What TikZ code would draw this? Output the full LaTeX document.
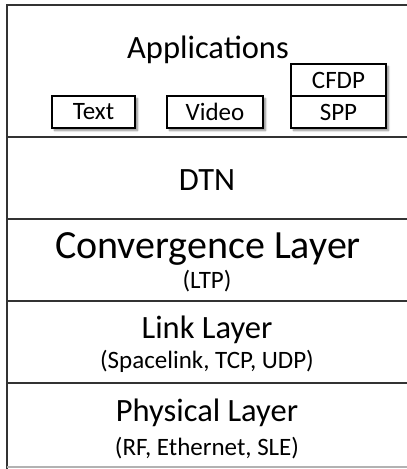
\documentclass[tikz,border=0pt]{standalone}
\usepackage{fontspec}
\setmainfont{Carlito}
\usetikzlibrary{shadows.blur}
\definecolor{rule}{HTML}{333333}
\tikzset{
  x=1pt, y=-1pt,
  frame/.style={draw=rule, line width=2pt},
  title/.style={anchor=base, font=\fontsize{32.5}{36}\selectfont, inner sep=0pt},
  subtitle/.style={anchor=base, font=\fontsize{25}{28}\selectfont, inner sep=0pt},
  boxlabel/.style={font=\fontsize{25}{28}\selectfont, inner sep=0pt},
  appbox/.style={draw=black, line width=1.3pt, fill=white, inner sep=0pt,
    blur shadow={shadow xshift=2.5pt, shadow yshift=-2.5pt, shadow blur steps=5, shadow opacity=45}},
}
\begin{document}
\begin{tikzpicture}
\useasboundingbox (0,0) rectangle (407,469);
% outer frame and layer dividers
\draw[frame] (407,4.5) -- (7,4.5) -- (7,469);
\foreach \yy in {137,219,301,383} \draw[frame] (7,\yy) -- (407,\yy);
\draw[draw=black!30, line width=2pt] (7,467) -- (407,467);

% layer titles
\node[title] (apps) at (208,58) {Applications};
\node[title] (dtn) at (207,190) {DTN};
\node[title, font=\fontsize{40}{44}\selectfont] (conv) at (208,258) {Convergence Layer};
\node[subtitle] (convsub) at (207,288) {(LTP)};
\node[title] (link) at (207,338) {Link Layer};
\node[subtitle] (linksub) at (207,368) {(Spacelink, TCP, UDP)};
\node[title] (phys) at (207,421) {Physical Layer};
\node[subtitle] (physsub) at (207,455) {(RF, Ethernet, SLE)};

% application boxes
\node[appbox, boxlabel, minimum width=83pt, minimum height=32pt] (text) at (93.5,112) {Text};
\node[appbox, boxlabel, minimum width=96pt, minimum height=32pt] (video) at (215,112) {Video};
\node[appbox, minimum width=95pt, minimum height=64pt] (stack) at (338.5,96) {};
\draw[line width=1.3pt] (stack.west) -- (stack.east);
\node[boxlabel] (cfdp) at (338.5,80) {CFDP};
\node[boxlabel] (spp) at (338.5,112) {SPP};
\end{tikzpicture}
\end{document}
